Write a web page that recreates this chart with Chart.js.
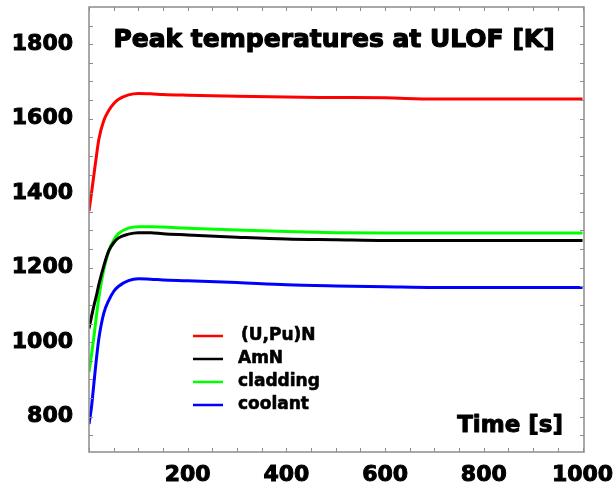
<!DOCTYPE html>
<html>
<head>
<meta charset="utf-8">
<script src="https://cdn.jsdelivr.net/npm/chart.js@4"></script>
<style>
  html, body { margin: 0; padding: 0; background: #fff; }
  canvas { display: block; }
</style>
</head>
<body>
<canvas id="chartUlof" width="613" height="489"></canvas>
<script>
// time axis [s] and peak temperatures [K]
var time    = [0, 5, 10, 15, 20, 30, 40, 50, 60, 80, 100, 125, 150, 200, 300, 400, 500, 600, 700, 800, 900, 1000];
var fuelUPuN = [1352, 1400, 1450, 1500, 1545, 1595, 1622, 1640, 1652, 1664, 1668, 1667, 1665, 1663, 1660, 1658, 1657, 1656, 1653, 1653, 1653, 1653];
var fuelAmN  = [1037, 1068, 1098, 1125, 1155, 1205, 1245, 1267, 1280, 1290, 1294, 1294, 1291, 1288, 1282, 1277, 1275, 1273, 1273, 1273, 1273, 1273];
var cladding = [920, 965, 1015, 1070, 1120, 1195, 1245, 1274, 1292, 1306, 1310, 1310, 1309, 1306, 1301, 1297, 1294, 1293, 1293, 1293, 1293, 1293];
var coolant  = [780, 825, 890, 955, 1010, 1078, 1112, 1136, 1150, 1165, 1170, 1169, 1167, 1165, 1160, 1154, 1151, 1149, 1147, 1147, 1147, 1147];

var xTicks = [];
for (var t = 0; t <= 1000; t += 50) xTicks.push(t);
var xTickLabels = [200, 400, 600, 800, 1000];
var yTicks = [];
for (var v = 750; v <= 1850; v += 50) yTicks.push(v);
var yTickLabels = [800, 1000, 1200, 1400, 1600, 1800];

var titleText = 'Peak temperatures at ULOF [K]';
var xTitleText = 'Time [s]';

function pts(ys) {
    return time.map(function (x, i) { return { x: x, y: ys[i] }; });
}

// heavy text: fill plus a thin stroke of the same colour
function heavyText(ctx, text, x, y, w) {
    ctx.lineWidth = w;
    ctx.strokeStyle = '#000';
    ctx.lineJoin = 'round';
    ctx.strokeText(text, x, y);
    ctx.fillText(text, x, y);
}

// frame, inward ticks on all four sides, title, axis title and legend
var decorations = {
    id: 'decorations',
    afterDatasetsDraw: function (chart) {
        var ctx = chart.ctx;
        var a = chart.chartArea;
        var xs = chart.scales.x, ys = chart.scales.y;
        ctx.save();
        ctx.strokeStyle = '#8c8c8c';
        ctx.lineWidth = 1.5;
        ctx.strokeRect(a.left, a.top, a.right - a.left, a.bottom - a.top);
        ctx.lineWidth = 1;
        ctx.beginPath();
        xTicks.forEach(function (t) {
            var px = Math.round(xs.getPixelForValue(t)) + 0.5;
            ctx.moveTo(px, a.bottom); ctx.lineTo(px, a.bottom - 4);
            ctx.moveTo(px, a.top); ctx.lineTo(px, a.top + 4);
        });
        yTicks.forEach(function (v) {
            var py = Math.round(ys.getPixelForValue(v)) + 0.5;
            ctx.moveTo(a.left, py); ctx.lineTo(a.left + 4, py);
            ctx.moveTo(a.right, py); ctx.lineTo(a.right - 4, py);
        });
        ctx.stroke();

        ctx.fillStyle = '#000';
        ctx.font = 'bold 25px "DejaVu Sans"';
        ctx.textAlign = 'center';
        ctx.textBaseline = 'alphabetic';
        heavyText(ctx, titleText, 334, 47, 1.2);

        ctx.font = 'bold 23px "DejaVu Sans"';
        ctx.textAlign = 'right';
        heavyText(ctx, xTitleText, 563, 432, 1.0);

        ctx.font = 'bold 17px "DejaVu Sans"';
        ctx.textAlign = 'left';
        ctx.textBaseline = 'middle';
        chart.data.datasets.forEach(function (ds, i) {
            var y = 336 + i * 23;
            ctx.strokeStyle = ds.borderColor;
            ctx.lineWidth = 2.5;
            ctx.beginPath();
            ctx.moveTo(193, y); ctx.lineTo(223, y);
            ctx.stroke();
            heavyText(ctx, ds.label, ds.label.charAt(0) === '(' ? 241 : 238, y, 0.6);
        });
        ctx.restore();
    }
};

function line(label, color, ys) {
    return {
        label: label,
        data: pts(ys),
        borderColor: color,
        backgroundColor: color,
        borderWidth: 3,
        pointRadius: 0,
        cubicInterpolationMode: 'monotone',
        fill: false
    };
}

var tickFont = { family: 'DejaVu Sans', size: 22, weight: 'bold' };

var ctxUlof = document.getElementById('chartUlof').getContext('2d');
var chartUlof = new Chart(ctxUlof, {
    type: 'line',
    data: {
        datasets: [
            line('(U,Pu)N', '#ff0000', fuelUPuN),
            line('AmN', '#000000', fuelAmN),
            line('cladding', '#00ff00', cladding),
            line('coolant', '#0000ff', coolant)
        ]
    },
    options: {
        responsive: false,
        animation: false,
        layout: { padding: { top: 7, right: 29, left: 0, bottom: 0 } },
        plugins: {
            legend: { display: false },
            title: { display: false },
            tooltip: { enabled: false }
        },
        scales: {
            x: {
                type: 'linear',
                min: 0,
                max: 1003,
                grid: { display: false, drawTicks: false },
                border: { display: false },
                afterBuildTicks: function (scale) {
                    scale.ticks = xTickLabels.map(function (v) { return { value: v }; });
                },
                afterFit: function (scale) {
                    scale.height = 37;
                    scale.paddingLeft = 0;
                    scale.paddingRight = 0;
                },
                ticks: {
                    autoSkip: false,
                    maxRotation: 0,
                    padding: 10,
                    color: '#000',
                    textStrokeColor: '#000',
                    textStrokeWidth: 1,
                    font: tickFont,
                    callback: function (value) { return String(value); }
                }
            },
            y: {
                min: 705,
                max: 1900,
                grid: { display: false, drawTicks: false },
                border: { display: false },
                afterBuildTicks: function (scale) {
                    scale.ticks = yTickLabels.map(function (v) { return { value: v }; });
                },
                afterFit: function (scale) {
                    scale.width = 89;
                    scale.paddingTop = 0;
                    scale.paddingBottom = 0;
                },
                ticks: {
                    autoSkip: false,
                    padding: 16,
                    color: '#000',
                    textStrokeColor: '#000',
                    textStrokeWidth: 1,
                    font: tickFont,
                    callback: function (value) { return String(value); }
                }
            }
        }
    },
    plugins: [decorations]
});
</script>
</body>
</html>
